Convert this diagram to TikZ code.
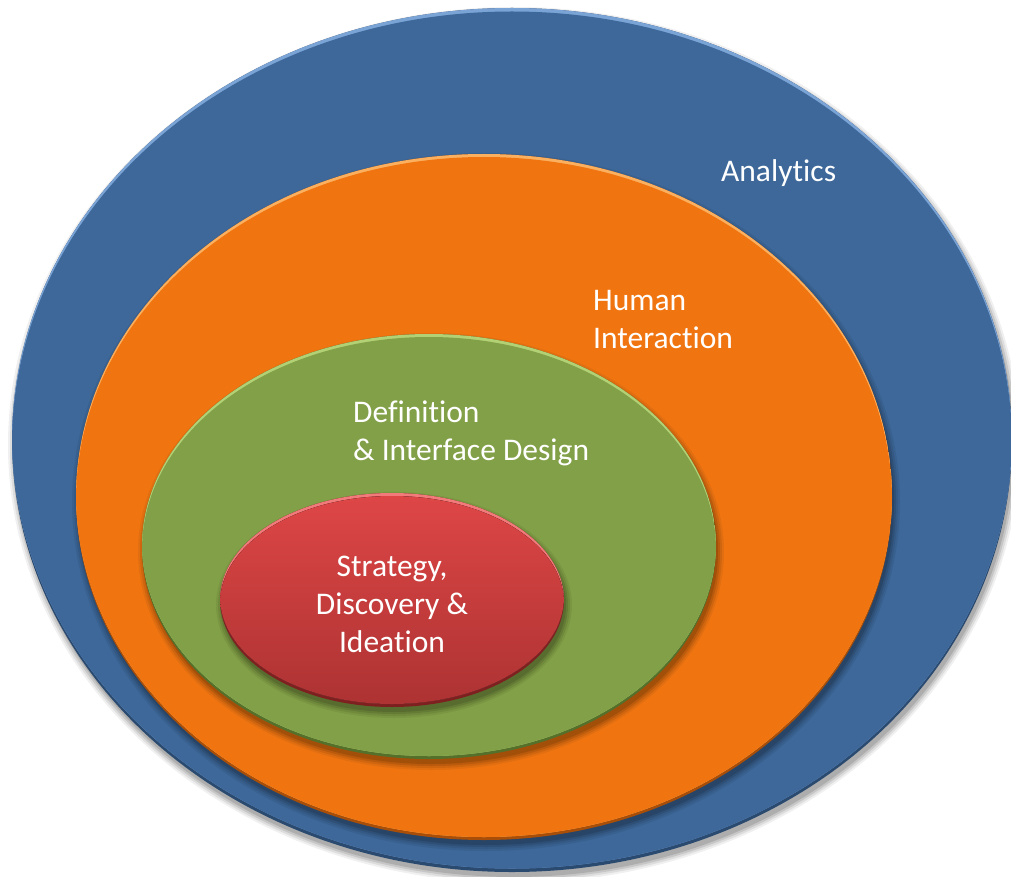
\documentclass[tikz,border=0pt]{standalone}
\usepackage{fontspec}
\setmainfont[Ligatures={NoCommon}]{Carlito}
\usetikzlibrary{shapes.geometric}
\definecolor{bluemain}{HTML}{3D6899}
\definecolor{bluelight}{HTML}{7AA3D6}
\definecolor{bluedark}{HTML}{2A4A70}
\definecolor{orgmain}{HTML}{F07511}
\definecolor{orglight}{HTML}{FBB060}
\definecolor{orgdark}{HTML}{A84E08}
\definecolor{grnmain}{HTML}{82A047}
\definecolor{grnlight}{HTML}{B2D175}
\definecolor{grndark}{HTML}{55702A}
\definecolor{redtop}{HTML}{DE4646}
\definecolor{redbot}{HTML}{AC3232}
\definecolor{redlight}{HTML}{F27A7A}
\definecolor{reddark}{HTML}{7E2020}
\newcommand\bevdisc[8]{%
  % #1 cx, #2 cy, #3 rx, #4 ry, #5 light, #6 dark, #7 main fill options, #8 rim
  \foreach \s/\o in {6/0.06,4/0.08,2/0.10,0/0.12}{
    \fill[black,opacity=\o] (#1+2,#2+5) ellipse [x radius=#3+\s, y radius=#4+\s];
  }
  \fill[#6] (#1,#2) ellipse [x radius=#3, y radius=#4];
  \begin{scope}
    \clip (#1,#2) ellipse [x radius=#3, y radius=#4];
    \fill[#5] (#1,#2-#8) ellipse [x radius=#3, y radius=#4];
    \clip (#1,#2-#8) ellipse [x radius=#3, y radius=#4];
    \fill[#7] (#1,#2+#8) ellipse [x radius=#3, y radius=#4];
  \end{scope}
}
\tikzset{
  lbl/.style={text=white, font=\fontsize{31.5}{38}\selectfont, inner sep=0pt},
}
\begin{document}
\begin{tikzpicture}[x=1pt,y=-1pt]
\useasboundingbox (0,0) rectangle (1011,877);
\fill[white] (0,0) rectangle (1011,877);
\bevdisc{512}{440}{500}{432}{bluelight}{bluedark}{bluemain}{3.5}
\bevdisc{484}{497}{408}{343}{orglight}{orgdark}{orgmain}{3}
\bevdisc{429}{546.5}{287}{212.5}{grnlight}{grndark}{grnmain}{3}
\bevdisc{392}{600}{172}{107}{redlight}{reddark}{top color=redtop,bottom color=redbot}{3}
\node[lbl, anchor=base west] (analytics) at (721,182) {Analytics};
\node[lbl, anchor=base west, align=left] (human) at (593,348) {Human\\Interaction};
\node[lbl, anchor=base west, align=left] (definition) at (353,460) {Definition\\\& Interface Design};
\node[lbl, anchor=base, align=center] (strategy) at (392,652) {Strategy,\\Discovery \&\\Ideation};
\end{tikzpicture}
\end{document}
